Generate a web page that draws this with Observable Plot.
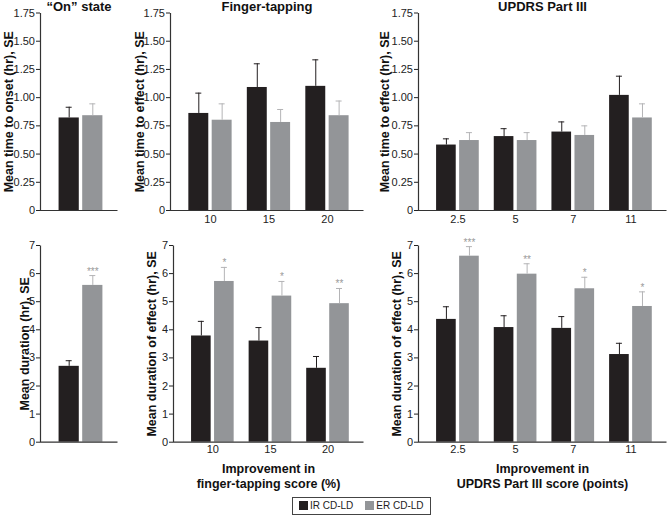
<!DOCTYPE html>
<html>
<head>
<meta charset="utf-8">
<script src="https://cdn.jsdelivr.net/npm/d3@7"></script>
<script src="https://cdn.jsdelivr.net/npm/@observablehq/plot@0.6"></script>
<style>
  html, body { margin: 0; padding: 0; background: #fff; }
  #root { position: relative; width: 667px; height: 516px; overflow: hidden; font-family: "Liberation Sans", Arial, sans-serif; }
  .panel { position: absolute; }
  .legend { position: absolute; left: 292px; top: 497px; border: 1px solid #444; padding: 2px 6px; font-size: 10px; line-height: 12px; color: #222; display: flex; align-items: center; gap: 12px; white-space: nowrap; }
  .legend span.sw { display: inline-block; width: 9px; height: 9px; margin-right: 2px; vertical-align: -1px; }
</style>
</head>
<body>
<div id="root"></div>
<script>
// ---- data ----
const panelTitles = ["\u201cOn\u201d state", "Finger-tapping", "UPDRS Part III"];
const ftCats = ["10", "15", "20"];
const updrsCats = ["2.5", "5", "7", "11"];
const onCats = ["On"];
const seriesNames = ["IR CD-LD", "ER CD-LD"];

const yTicksTop = [0, 0.25, 0.5, 0.75, 1.0, 1.25, 1.5, 1.75];
const yTicksBottom = [0, 1, 2, 3, 4, 5, 6, 7];

// Top row: time to onset / effect (hr)
const onsetIR = [0.82], onsetIRse = [0.095];
const onsetER = [0.84], onsetERse = [0.105];
const ftTimeIR = [0.86, 1.09, 1.10], ftTimeIRse = [0.18, 0.21, 0.235];
const ftTimeER = [0.80, 0.78, 0.84], ftTimeERse = [0.145, 0.115, 0.13];
const updTimeIR = [0.58, 0.655, 0.695, 1.02], updTimeIRse = [0.055, 0.07, 0.09, 0.17];
const updTimeER = [0.62, 0.62, 0.665, 0.82], updTimeERse = [0.07, 0.07, 0.085, 0.125];

// Bottom row: duration (hr)
const durIR = [2.7], durIRse = [0.2];
const durER = [5.58], durERse = [0.35];
const ftDurIR = [3.78, 3.6, 2.63], ftDurIRse = [0.52, 0.48, 0.42];
const ftDurER = [5.72, 5.2, 4.93], ftDurERse = [0.5, 0.52, 0.54];
const updDurIR = [4.37, 4.08, 4.05, 3.12], updDurIRse = [0.45, 0.42, 0.42, 0.4];
const updDurER = [6.62, 5.98, 5.46, 4.83], updDurERse = [0.34, 0.37, 0.41, 0.52];

const durStars = ["***"];
const ftStars = ["*", "*", "**"];
const updStars = ["***", "**", "*", "*"];

const yLabels = ["Mean time to onset (hr), SE", "Mean time to effect (hr), SE", "Mean time to effect (hr), SE",
                 "Mean duration (hr), SE", "Mean duration of effect (hr), SE", "Mean duration of effect (hr), SE"];
const xTitles = ["Improvement in\nfinger-tapping score (%)", "Improvement in\nUPDRS Part III score (points)"];

// ---- style ----
const C_IR = "#231f20", C_ER = "#939598", C_ER_ERR = "#b4b4b6", C_STAR = "#9a9a9a", C_AXIS = "#333";
const PI = 0.26, PO = 0.28, ALIGN = 0.56, GAP = 3.4;
const F_LABEL = 12.5, F_TITLE = 13;

function panel(o) {
  const W = o.width - o.ml - o.mr;
  const H = o.height - o.mt - o.mb;
  const n = o.cats.length;
  const step = W / (n - PI + 2 * PO);
  const bw = step * (1 - PI);
  const barW = (bw - GAP) / 2;
  const off = (GAP + barW) / 2;
  const data = o.cats.map((c, i) => ({
    c, ir: o.ir[i], irTop: o.ir[i] + o.irSe[i], er: o.er[i], erTop: o.er[i] + o.erSe[i],
    star: o.stars ? o.stars[i] : null
  }));
  const fmt = o.top ? (d => d === 0 ? "0" : d.toFixed(2)) : (d => String(d));
  const marks = [
    Plot.barY(data, {x: "c", y: "ir", fill: C_IR, insetRight: bw - barW}),
    Plot.barY(data, {x: "c", y: "er", fill: C_ER, insetLeft: bw - barW}),
    Plot.ruleX(data, {x: "c", y1: "ir", y2: "irTop", dx: -off, stroke: C_IR, strokeWidth: 1}),
    Plot.tickY(data, {x: "c", y: "irTop", insetLeft: barW / 2 - 3, insetRight: bw - barW / 2 - 3, stroke: C_IR}),
    Plot.ruleX(data, {x: "c", y1: "er", y2: "erTop", dx: off, stroke: C_ER_ERR, strokeWidth: 1}),
    Plot.tickY(data, {x: "c", y: "erTop", insetLeft: bw - barW / 2 - 3, insetRight: barW / 2 - 3, stroke: C_ER_ERR}),
    Plot.frame({stroke: C_AXIS, strokeWidth: 1.2, strokeDasharray: `0 ${W + H} ${W + H}`}),
    Plot.text([o.ylab], {frameAnchor: "left", rotate: -90, dx: o.ylabDx, textAnchor: "middle",
      fontWeight: "bold", fontSize: F_LABEL, fill: "#111"})
  ];
  if (o.stars) {
    marks.push(Plot.text(data.filter(d => d.star), {x: "c", y: "erTop", text: "star", dx: off, dy: -1,
      lineAnchor: "bottom", fill: C_STAR, fontSize: 10}));
  }
  if (o.title) {
    marks.push(Plot.text([o.title], {frameAnchor: "top", dy: -2.5, lineAnchor: "bottom",
      fontWeight: "bold", fontSize: F_TITLE, fill: "#111"}));
  }
  if (o.xTitle) {
    marks.push(Plot.text([o.xTitle], {frameAnchor: "bottom", dy: 20, lineAnchor: "top",
      fontWeight: "bold", fontSize: F_LABEL, lineHeight: 1.2, fill: "#111"}));
  }
  const chart = Plot.plot({
    width: o.width, height: o.height,
    marginLeft: o.ml, marginRight: o.mr, marginTop: o.mt, marginBottom: o.mb,
    style: {fontFamily: "'Liberation Sans', Arial, sans-serif", fontSize: "11px", color: "#222", background: "transparent", overflow: "visible"},
    x: {domain: o.cats, paddingInner: PI, paddingOuter: PO, align: ALIGN, round: false,
        axis: o.showX ? "bottom" : null, tickSize: 0, tickPadding: o.tickPad, label: null},
    y: {domain: [0, o.yMax], ticks: o.yTicks, tickFormat: fmt, tickSize: 4, tickPadding: 1.5, label: null},
    marks
  });
  chart.classList.add("panel");
  chart.style.position = "absolute";
  chart.style.left = o.left + "px";
  chart.style.top = o.topPx + "px";
  document.getElementById("root").appendChild(chart);
}

const TOP = {topPx: 0, height: 232, mt: 12.5, mb: 22, yMax: 1.75, yTicks: yTicksTop, top: true, tickPad: 5};
const BOT = {topPx: 232, height: 263, mt: 13, mb: 53.3, yMax: 7, yTicks: yTicksBottom, top: false, tickPad: 2.5};

panel({...TOP, left: 0, width: 122, ml: 40, mr: 5, cats: onCats, ir: onsetIR, irSe: onsetIRse, er: onsetER, erSe: onsetERse,
  title: panelTitles[0], ylab: yLabels[0], ylabDx: -32, showX: false});
panel({...TOP, left: 122, width: 246, ml: 48, mr: 5, cats: ftCats, ir: ftTimeIR, irSe: ftTimeIRse, er: ftTimeER, erSe: ftTimeERse,
  title: panelTitles[1], ylab: yLabels[1], ylabDx: -31, showX: true});
panel({...TOP, left: 368, width: 299, ml: 50, mr: 1, cats: updrsCats, ir: updTimeIR, irSe: updTimeIRse, er: updTimeER, erSe: updTimeERse,
  title: panelTitles[2], ylab: yLabels[2], ylabDx: -34, showX: true});

panel({...BOT, left: 0, width: 122, ml: 40, mr: 5, cats: onCats, ir: durIR, irSe: durIRse, er: durER, erSe: durERse,
  stars: durStars, ylab: yLabels[3], ylabDx: -16, showX: false});
panel({...BOT, left: 122, width: 246, ml: 51, mr: 5, cats: ftCats, ir: ftDurIR, irSe: ftDurIRse, er: ftDurER, erSe: ftDurERse,
  stars: ftStars, ylab: yLabels[4], ylabDx: -22, showX: true, xTitle: xTitles[0]});
panel({...BOT, left: 368, width: 299, ml: 50, mr: 1, cats: updrsCats, ir: updDurIR, irSe: updDurIRse, er: updDurER, erSe: updDurERse,
  stars: updStars, ylab: yLabels[5], ylabDx: -22, showX: true, xTitle: xTitles[1]});

// legend
const leg = document.createElement("div");
leg.className = "legend";
leg.innerHTML = seriesNames.map((s, i) =>
  `<span><span class="sw" style="background:${i === 0 ? C_IR : C_ER}"></span>${s}</span>`).join("");
document.getElementById("root").appendChild(leg);
</script>
</body>
</html>
